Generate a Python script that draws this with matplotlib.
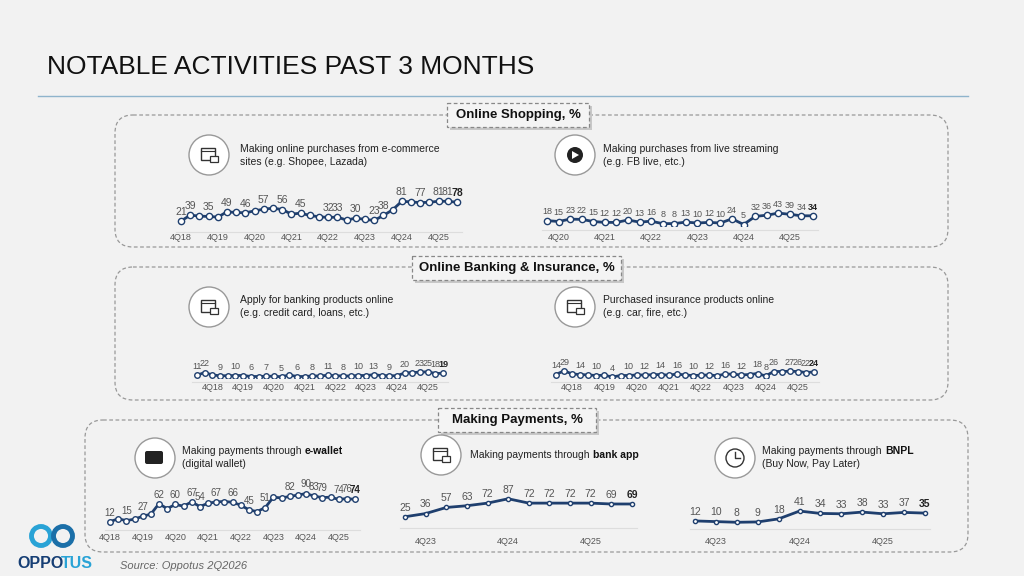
import matplotlib
matplotlib.use("Agg")
import matplotlib.pyplot as plt
from matplotlib.patches import FancyBboxPatch, Circle, Rectangle, Polygon

plt.rcParams['font.family'] = ['Liberation Sans', 'DejaVu Sans']

# ---------------- data ----------------
shop_vals = [21,39,36,35,33,49,47,46,52,57,60,56,42,45,38,34,32,33,24,30,26,23,38,55,81,79,77,78,81,81,78]
shop_lbl = [0,1,3,5,7,9,11,13,16,17,19,21,22,24,26,28,29,30]
shop_ticks = ["4Q18","4Q19","4Q20","4Q21","4Q22","4Q23","4Q24","4Q25"]

live_vals = [18,15,23,22,15,12,12,20,13,16,8,8,13,10,12,10,24,5,32,36,43,39,34,34]
live_lbl = list(range(24))
live_ticks = ["4Q20","4Q21","4Q22","4Q23","4Q24","4Q25"]

bank_vals = [11,22,12,9,9,10,10,6,6,7,7,5,12,6,6,8,8,11,9,8,8,10,10,13,10,9,9,20,22,23,25,18,19]
bank_lbl = [0,1,3,5,7,9,11,13,15,17,19,21,23,25,27,29,30,31,32]
ins_vals = [14,29,16,14,12,10,11,4,10,10,12,12,13,14,11,16,12,10,11,12,9,16,15,12,14,18,8,26,26,27,26,22,24]
ins_lbl = [0,1,3,5,7,9,11,13,15,17,19,21,23,25,26,27,29,30,31,32]
bi_ticks = ["4Q18","4Q19","4Q20","4Q21","4Q22","4Q23","4Q24","4Q25"]

ew_vals = [12,20,15,19,27,33,62,48,60,55,67,54,63,67,68,66,58,45,40,51,80,78,82,86,90,83,79,80,74,76,74]
ew_lbl = [0,2,4,6,8,10,11,13,15,17,19,22,24,25,26,28,29,30]
ew_ticks = ["4Q18","4Q19","4Q20","4Q21","4Q22","4Q23","4Q24","4Q25"]

app_vals = [25,36,57,63,72,87,72,72,72,72,69,69]
bnpl_vals = [12,10,8,9,18,41,34,33,38,33,37,35]
short_ticks = ["4Q23","4Q24","4Q25"]

W, H = 1024, 576
fig = plt.figure(figsize=(W/100, H/100), dpi=100)
fig.patch.set_facecolor('#f2f2f2')
bg = fig.add_axes([0, 0, 1, 1])
bg.set_xlim(0, W); bg.set_ylim(H, 0); bg.axis('off')

NAVY = '#1f3f6e'

bg.text(47, 67, "NOTABLE ACTIVITIES PAST 3 MONTHS", fontsize=19, color='#111111', va='center')
bg.plot([38, 968], [96, 96], color='#8fb4cc', lw=1)

def box(x0, y0, x1, y1):
    bg.add_patch(FancyBboxPatch((x0, y0), x1-x0, y1-y0, boxstyle="round,pad=0,rounding_size=18",
                                fc='#f2f2f2', ec='#999999', lw=0.9, ls=(0, (3, 2))))

def header(x0, y0, x1, y1, text):
    bg.add_patch(Rectangle((x0+3, y0+3), x1-x0, y1-y0, fc='#c8c8c8', ec='none'))
    bg.add_patch(Rectangle((x0, y0), x1-x0, y1-y0, fc='#f4f4f4', ec='#888888', lw=0.9, ls=(0, (3, 2))))
    bg.text((x0+x1)/2, (y0+y1)/2, text, ha='center', va='center', fontsize=9.5, fontweight='bold', color='#111111')

box(115, 115, 948, 247); header(447, 103, 589, 127, "Online Shopping, %")
box(115, 267, 948, 400); header(412, 256, 621, 280, "Online Banking & Insurance, %")
box(85, 420, 968, 552); header(438, 408, 596, 432, "Making Payments, %")

def icon(cx, cy, dark=False, r=20):
    if dark:
        bg.add_patch(Circle((cx, cy), r, fc='white', ec='#999999', lw=1))
        bg.add_patch(Circle((cx, cy), 8, fc='#222222', ec='none'))
        bg.add_patch(Polygon([(cx-3, cy-4), (cx-3, cy+4), (cx+4, cy)], fc='white', ec='none'))
    else:
        bg.add_patch(Circle((cx, cy), r, fc='white', ec='#999999', lw=1))
        bg.add_patch(Rectangle((cx-8, cy-7), 14, 12, fc='none', ec='#333333', lw=1))
        bg.plot([cx-8, cx+6], [cy-4, cy-4], color='#333333', lw=0.8)
        bg.add_patch(Rectangle((cx+1, cy+1), 8, 6, fc='white', ec='#333333', lw=0.9))

def desc(x, y, lines):
    for i, l in enumerate(lines):
        bg.text(x, y + i*13, l, fontsize=7.5, color='#222222', va='center')

icon(209, 155); desc(240, 149, ["Making online purchases from e-commerce", "sites (e.g. Shopee, Lazada)"])
icon(575, 155, dark=True); desc(603, 149, ["Making purchases from live streaming", "(e.g. FB live, etc.)"])
icon(209, 307); desc(240, 300, ["Apply for banking products online", "(e.g. credit card, loans, etc.)"])
icon(575, 307); desc(603, 300, ["Purchased insurance products online", "(e.g. car, fire, etc.)"])

bg.add_patch(Circle((155, 458), 20, fc='white', ec='#999999', lw=1))
bg.add_patch(FancyBboxPatch((145, 451), 18, 13, boxstyle="round,pad=0,rounding_size=2", fc='#222222', ec='none'))
bg.text(182, 451, "Making payments through", fontsize=7.5, color='#222222', va='center')
bg.text(305, 451, "e-wallet", fontsize=7.5, color='#111111', va='center', fontweight='bold')
bg.text(182, 464, "(digital wallet)", fontsize=7.5, color='#222222', va='center')

icon(441, 455)
bg.text(470, 455, "Making payments through", fontsize=7.5, color='#222222', va='center')
bg.text(593, 455, "bank app", fontsize=7.5, color='#111111', va='center', fontweight='bold')

bg.add_patch(Circle((735, 458), 20, fc='white', ec='#999999', lw=1))
bg.add_patch(Circle((735, 458), 9, fc='none', ec='#333333', lw=1))
bg.plot([735, 735, 740], [452, 458, 458], color='#333333', lw=1)
bg.text(762, 451, "Making payments through", fontsize=7.5, color='#222222', va='center')
bg.text(885, 451, "BNPL", fontsize=7.5, color='#111111', va='center', fontweight='bold')
bg.text(762, 464, "(Buy Now, Pay Later)", fontsize=7.5, color='#222222', va='center')

def chart(vals, lbl_idx, ticks, tick_start, tick_step, xfirst, xlast, ytop, ybot, tick_y, ms=4.5, fs=7.5):
    n = len(vals)
    step = (xlast - xfirst) / (n - 1)
    left = xfirst - step * 0.6
    right = xlast + step * 0.6
    ax = fig.add_axes([left / W, 1 - ybot / H, (right - left) / W, (ybot - ytop) / H])
    ax.set_xlim(-0.6, n - 1 + 0.6); ax.set_ylim(0, 100)
    ax.axis('off')
    xs = list(range(n))
    ax.plot(xs, vals, color=NAVY, lw=2, marker='o', ms=ms, mfc='white', mec=NAVY, mew=1, zorder=3)
    for i in lbl_idx:
        last = (i == n - 1)
        ax.annotate(str(vals[i]), (i, vals[i]), xytext=(0, 3), textcoords='offset points',
                    ha='center', va='bottom', fontsize=fs, color='#222222' if last else '#555555',
                    fontweight='bold' if last else 'normal')
    bl = ybot + 4
    bg.plot([xfirst - 5, xlast + 5], [bl, bl], color='#dddddd', lw=0.8)
    for k, t in enumerate(ticks):
        i = tick_start + k * tick_step
        bg.text(xfirst + i * step, tick_y, t, ha='center', va='center', fontsize=6.5, color='#555555')

chart(shop_vals, shop_lbl, shop_ticks, 0, 4, 181, 457, 195, 228, 238, fs=7.5)
chart(live_vals, live_lbl, live_ticks, 1, 4, 547, 813, 196, 226, 238, fs=6.5)
chart(bank_vals, bank_lbl, bi_ticks, 2, 4, 197, 443, 353, 378, 387, ms=4, fs=6.5)
chart(ins_vals, ins_lbl, bi_ticks, 2, 4, 556, 814, 353, 378, 387, ms=4, fs=6.5)
chart(ew_vals, ew_lbl, ew_ticks, 0, 4, 110, 355, 490, 526, 537, ms=4, fs=7)
chart(app_vals, list(range(12)), short_ticks, 1, 4, 405, 632, 495, 524, 541, ms=3, fs=7.5)
chart(bnpl_vals, list(range(12)), short_ticks, 1, 4, 695, 925, 491, 525, 541, ms=3, fs=7.5)

# logo
bg.add_patch(Circle((41, 536), 9.5, fc='none', ec='#29a3d6', lw=3.5))
bg.add_patch(Circle((63, 536), 9.5, fc='none', ec='#1b6fa8', lw=3.5))
bg.text(17, 564, "OPPO", fontsize=11.5, fontweight='bold', color='#163e74', va='center')
bg.text(61, 564, "TUS", fontsize=11.5, fontweight='bold', color='#29a3d6', va='center')
bg.text(120, 566, "Source: Oppotus 2Q2026", fontsize=8, style='italic', color='#666666', va='center')

fig.savefig("out.png", dpi=100, facecolor=fig.get_facecolor())
